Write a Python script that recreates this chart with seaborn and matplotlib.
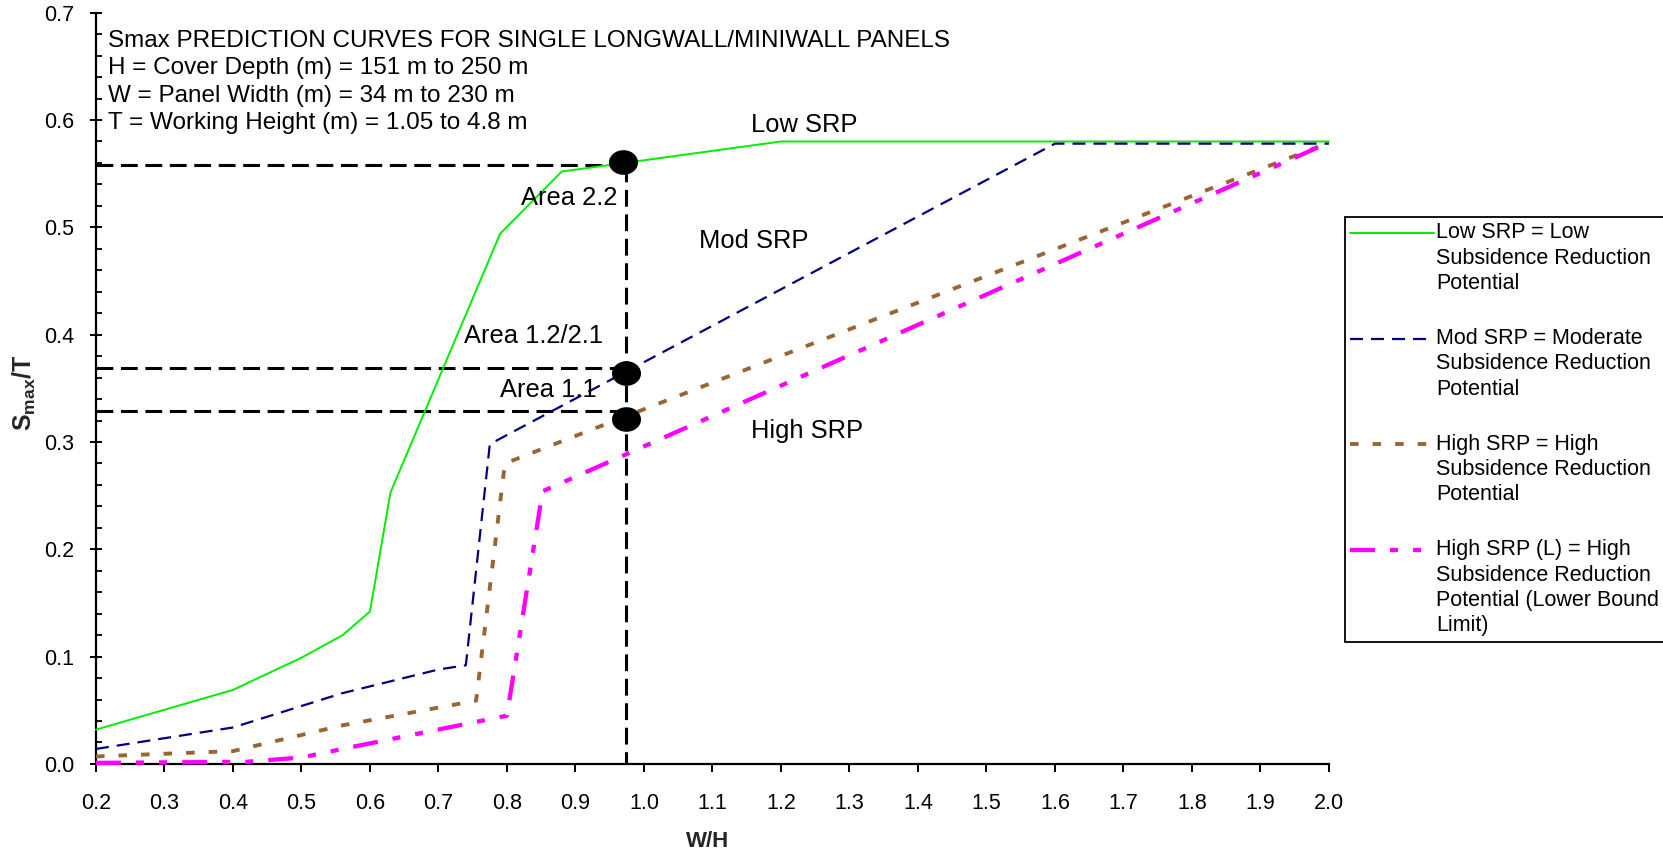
import numpy as np
import matplotlib
matplotlib.use("Agg")
import matplotlib.pyplot as plt
from matplotlib.path import Path
from matplotlib.ticker import MultipleLocator, FormatStrFormatter
from matplotlib.legend_handler import HandlerLine2D
import seaborn as sns

# W/H break points and Smax/T values of each subsidence reduction potential curve
low_wh = [0.2, 0.4, 0.5, 0.56, 0.6, 0.63, 0.79, 0.88, 1.2, 2.0]
low_smax = [0.032, 0.069, 0.099, 0.12, 0.142, 0.253, 0.494, 0.552, 0.58, 0.58]

mod_wh = [0.2, 0.4, 0.56, 0.7, 0.74, 0.775, 1.6, 2.0]
mod_smax = [0.014, 0.034, 0.066, 0.088, 0.092, 0.298, 0.578, 0.578]

high_wh = [0.2, 0.4, 0.56, 0.755, 0.797, 2.0]
high_smax = [0.007, 0.012, 0.036, 0.059, 0.28, 0.579]

highl_wh = [0.2, 0.42, 0.5, 0.56, 0.8, 0.852, 2.0]
highl_smax = [0.001, 0.002, 0.006, 0.014, 0.045, 0.254, 0.579]

# design W/H and the Smax/T values
design_wh = 0.974
read_smax = [0.558, 0.369, 0.329]
point_wh = [0.97, 0.974, 0.974]
point_smax = [0.561, 0.364, 0.321]

legend_labels = [
    "Low SRP = Low\nSubsidence Reduction\nPotential",
    "Mod SRP = Moderate\nSubsidence Reduction\nPotential",
    "High SRP = High\nSubsidence Reduction\nPotential",
    "High SRP (L) = High\nSubsidence Reduction\nPotential (Lower Bound\nLimit)",
]

header_lines = [
    "Smax PREDICTION CURVES FOR SINGLE LONGWALL/MINIWALL PANELS",
    "H = Cover Depth (m) = 151 m to 250 m",
    "W = Panel Width (m) = 34 m to 230 m",
    "T = Working Height (m) = 1.05 to 4.8 m",
]
header_x = 0.2175
header_y = [0.6685, 0.6431, 0.6172, 0.5915]

# curve names, anchor W/H and baseline Smax/T
curve_names = ["Low SRP", "Mod SRP", "High SRP"]
curve_name_x = [1.2336, 1.1606, 1.238]
curve_name_y = [0.5887, 0.4806, 0.3035]

area_names = ["Area 2.2", "Area 1.2/2.1", "Area 1.1"]
area_x = [0.8906, 0.839, 0.861]
area_y = [0.521, 0.392, 0.3423]

x_ticks = np.round(np.arange(0.2, 2.0001, 0.1), 1)
y_ticks = np.round(np.arange(0.0, 0.7001, 0.1), 1)

sns.set_theme(style="ticks")
plt.rcParams["font.family"] = ["Liberation Sans", "DejaVu Sans"]
plt.rcParams.update({
    "mathtext.fontset": "custom",
    "mathtext.rm": "Liberation Sans",
    "mathtext.bf": "Liberation Sans:bold",
    "mathtext.it": "Liberation Sans:italic",
    "mathtext.sf": "Liberation Sans",
    "axes.edgecolor": "black",
    "xtick.color": "black",
    "ytick.color": "black",
    "text.color": "black",
})

fig = plt.figure(figsize=(16.63, 8.58), dpi=100)
fig.patch.set_facecolor("white")
ax = fig.add_axes([0.0577, 0.1096, 0.7414, 0.8756])
ax.set_facecolor("white")

# dashed read-off lines
guide = dict(color="black", linewidth=2.2, linestyle=(0, (5.5, 2.5)),
             estimator=None, sort=False, legend=False, zorder=2, ax=ax)
for s in read_smax:
    sns.lineplot(x=[0.2, design_wh], y=[s, s], **guide)
sns.lineplot(x=[design_wh, design_wh], y=[read_smax[0], 0.0], **guide)

curves = [
    (low_wh, low_smax, "#00ee00", 1.4, "-"),
    (mod_wh, mod_smax, "#000080", 1.6, (0, (5.85, 3.6))),
    (high_wh, high_smax, "#996633", 2.8, (0, (2.2, 3.6))),
    (highl_wh, highl_smax, "#ff00ff", 3.1, (0, (5.8, 3.5, 1.86, 3.5, 1.86, 3.5))),
]
handles = []
for (xs, ys, col, lw, ls), lab in zip(curves, legend_labels):
    sns.lineplot(x=xs, y=ys, color=col, linewidth=lw, linestyle=ls,
                 estimator=None, sort=False, legend=False, label=lab,
                 ax=ax, zorder=3, clip_on=False)
    handles.append(ax.lines[-1])

# read-off points
theta = np.linspace(0, 2 * np.pi, 64)
ellipse = Path(np.column_stack([1.18 * np.cos(theta), np.sin(theta)]), closed=True)
sns.scatterplot(x=point_wh, y=point_smax, marker=ellipse, s=437, color="black",
                linewidth=0, legend=False, ax=ax, zorder=5)

for txt, yb in zip(header_lines, header_y):
    ax.text(header_x, yb, txt, fontsize=17.5, ha="left", va="baseline")
for txt, xc, yb in zip(curve_names, curve_name_x, curve_name_y):
    ax.text(xc, yb, txt, fontsize=18.4, ha="center", va="baseline")
for txt, xc, yb in zip(area_names, area_x, area_y):
    ax.text(xc, yb, txt, fontsize=18.4, ha="center", va="baseline")

ax.set_xlim(0.2, 2.0)
ax.set_ylim(0.0, 0.7)
ax.set_xticks(x_ticks)
ax.set_yticks(y_ticks)
ax.xaxis.set_major_formatter(FormatStrFormatter("%.1f"))
ax.yaxis.set_major_formatter(FormatStrFormatter("%.1f"))
ax.yaxis.set_minor_locator(MultipleLocator(0.02))
ax.tick_params(axis="x", which="major", direction="out", length=5.8, width=1.4,
               pad=14.8, labelsize=15.5)
ax.tick_params(axis="y", which="major", direction="inout", length=8.6, width=1.4,
               pad=11.5, labelsize=15.5)
ax.tick_params(axis="y", which="minor", direction="in", length=4.2, width=1.3)
sns.despine(ax=ax)
for side in ("left", "bottom"):
    ax.spines[side].set_linewidth(1.6)
    ax.spines[side].set_color("black")

ax.set_xlabel("W/H", fontsize=16, fontweight="bold")
ax.xaxis.set_label_coords(0.4964, -0.0892)
ax.set_ylabel(r"$\mathbf{S_{max}/T}$", fontsize=18)
ax.yaxis.set_label_coords(-0.047, 0.494)


class FirstLineHandler(HandlerLine2D):
    """Places the legend line beside the first line of a wrapped label."""

    def __init__(self, lift, **kw):
        super().__init__(**kw)
        self.lift = lift

    def create_artists(self, legend, orig_handle, xdescent, ydescent,
                       width, height, fontsize, trans):
        artists = super().create_artists(legend, orig_handle, xdescent, ydescent,
                                         width, height, fontsize, trans)
        for a in artists:
            a.set_ydata(np.asarray(a.get_ydata(), dtype=float) + self.lift)
        return artists


leg_fs = 15.5
pitch = 1.27 * 0.94 * leg_fs
hmap = {h: FirstLineHandler((lab.count("\n")) / 2 * pitch)
        for h, lab in zip(handles, legend_labels)}
leg = ax.legend(handles, legend_labels, handler_map=hmap, loc="upper left",
                bbox_to_anchor=(1345 / 1663, 1 - 217 / 858),
                bbox_transform=fig.transFigure, fontsize=leg_fs,
                frameon=True, fancybox=False, shadow=False, borderaxespad=0,
                borderpad=0.25, handlelength=3.9, handletextpad=0.1,
                labelspacing=1.58)
for t in leg.get_texts():
    t.set_linespacing(1.27)
frame = leg.get_frame()
frame.set_edgecolor("black")
frame.set_linewidth(1.3)
frame.set_facecolor("white")
frame.set_alpha(1)

fig.savefig("out.png", dpi=100, facecolor="white")
